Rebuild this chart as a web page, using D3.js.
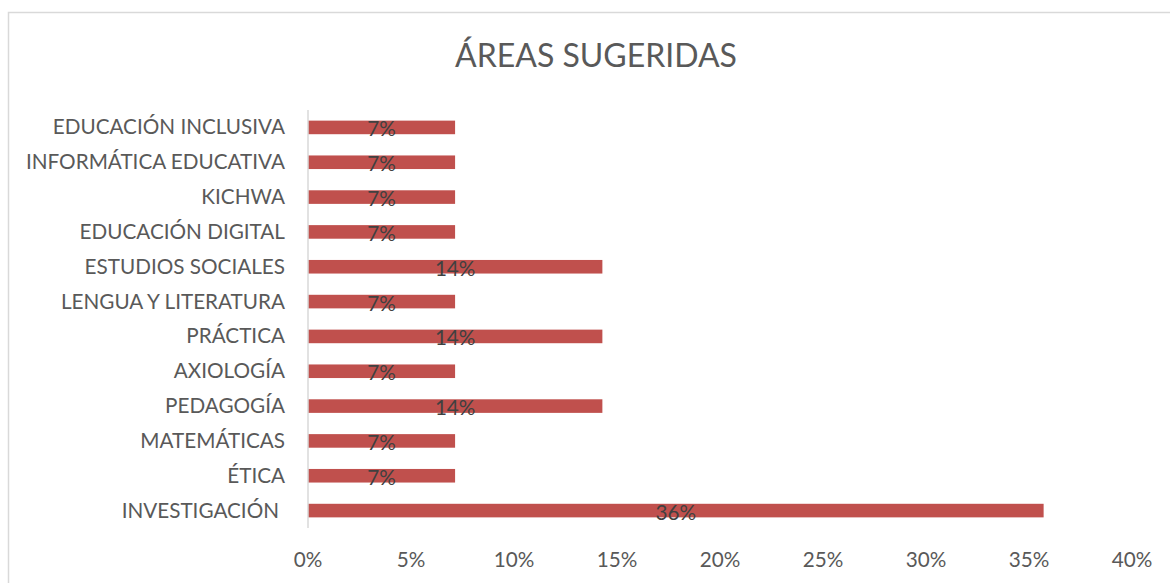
<!DOCTYPE html>
<html lang="es">
<head>
<meta charset="utf-8">
<script src="https://d3js.org/d3.v7.min.js"></script>
<style type="text/css">
body {
  margin: 0;
  padding: 0;
  background: #fff;
  font-family: Lato, "Open Sans", sans-serif;
}
.cat-label, .tick-label {
  fill: #595959;
  font-size: 20.7px;
}
.data-label {
  fill: #404040;
  font-size: 20.7px;
}
.title {
  fill: #595959;
  font-size: 32px;
}
</style>
</head>
<body>
<div id="chart"></div>

<script type="text/javascript">

// areas, top to bottom as drawn
var areas = ["EDUCACIÓN INCLUSIVA", "INFORMÁTICA EDUCATIVA", "KICHWA", "EDUCACIÓN DIGITAL",
  "ESTUDIOS SOCIALES", "LENGUA Y LITERATURA", "PRÁCTICA", "AXIOLOGÍA", "PEDAGOGÍA",
  "MATEMÁTICAS", "ÉTICA", "INVESTIGACIÓN "];

// share of answers (fraction)
var shares = [0.0714, 0.0714, 0.0714, 0.0714, 0.1429, 0.0714, 0.1429, 0.0714, 0.1429,
  0.0714, 0.0714, 0.3571];

var xTicks = [0, 0.05, 0.10, 0.15, 0.20, 0.25, 0.30, 0.35, 0.40];

var chartTitle = "ÁREAS SUGERIDAS";

var width = 1170;
var height = 583;

var svg = d3.select("#chart")
  .append("svg")
  .attr("width", width)
  .attr("height", height);

// chart frame (runs off the right and bottom of the picture)
svg.append("rect")
  .attr("x", 8.5)
  .attr("y", 12.5)
  .attr("width", 1200)
  .attr("height", 600)
  .attr("fill", "#fff")
  .attr("stroke", "#d9d9d9")
  .attr("stroke-width", 1.5);

svg.append("text")
  .attr("class", "title")
  .attr("x", 596)
  .attr("y", 67)
  .attr("text-anchor", "middle")
  .text(chartTitle);

var x = d3.scaleLinear()
  .domain([0, 0.40])
  .range([308, 1132]);

var y = d3.scaleBand()
  .domain(areas)
  .range([110, 528])
  .paddingInner(0.61)
  .paddingOuter(0.305);

// bars
svg.selectAll("rect.bar")
  .data(areas)
  .enter()
  .append("rect")
  .attr("class", "bar")
  .attr("x", x(0))
  .attr("y", function(d) { return y(d); })
  .attr("width", function(d, i) { return x(shares[i]) - x(0); })
  .attr("height", y.bandwidth())
  .attr("fill", "#C0504D");

// vertical axis line
svg.append("line")
  .attr("x1", x(0))
  .attr("x2", x(0))
  .attr("y1", 110)
  .attr("y2", 528)
  .attr("stroke", "#d9d9d9")
  .attr("stroke-width", 1.5);

// category labels
svg.selectAll("text.cat-label")
  .data(areas)
  .enter()
  .append("text")
  .attr("class", "cat-label")
  .attr("x", 285)
  .attr("y", function(d) { return y(d) + y.bandwidth() / 2 + 7; })
  .attr("text-anchor", "end")
  .text(function(d) { return d.trim(); })
  .attr("dx", function(d) { return d !== d.trim() ? -6 : 0; });

// data labels
svg.selectAll("text.data-label")
  .data(areas)
  .enter()
  .append("text")
  .attr("class", "data-label")
  .attr("x", function(d, i) { return (x(0) + x(shares[i])) / 2; })
  .attr("y", function(d) { return y(d) + y.bandwidth() / 2 + 9; })
  .attr("text-anchor", "middle")
  .text(function(d, i) { return d3.format(".0%")(shares[i]); });

// x tick labels
svg.selectAll("text.tick-label")
  .data(xTicks)
  .enter()
  .append("text")
  .attr("class", "tick-label")
  .attr("x", function(d) { return x(d); })
  .attr("y", 567)
  .attr("text-anchor", "middle")
  .text(d3.format(".0%"));

</script>
</body>
</html>
